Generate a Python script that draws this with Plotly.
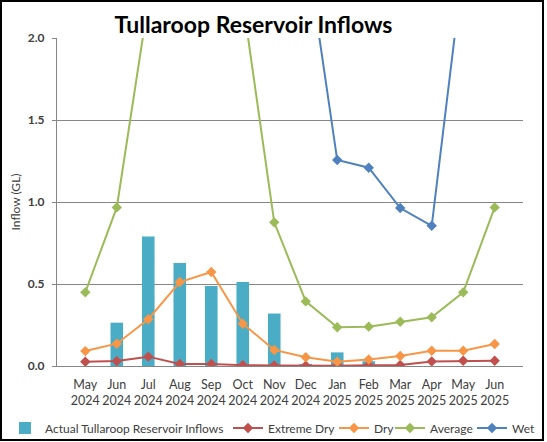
import plotly.graph_objects as go

categories = ["May<br>2024", "Jun<br>2024", "Jul<br>2024", "Aug<br>2024", "Sep<br>2024",
              "Oct<br>2024", "Nov<br>2024", "Dec<br>2024", "Jan<br>2025", "Feb<br>2025",
              "Mar<br>2025", "Apr<br>2025", "May<br>2025", "Jun<br>2025"]

actual = [None, 0.264, 0.79, 0.628, 0.488, 0.512, 0.32, 0.012, 0.083, 0.029, None, None, None, None]
extreme_dry = [0.026, 0.03, 0.057, 0.012, 0.012, 0.005, 0.003, 0.002, 0.002, 0.005, 0.006, 0.028, 0.032, 0.032]
dry = [0.091, 0.136, 0.285, 0.512, 0.573, 0.258, 0.098, 0.053, 0.026, 0.04, 0.061, 0.093, 0.093, 0.134]
average = [0.449, 0.967, 2.22, None, None, 2.23, 0.876, 0.394, 0.236, 0.24, 0.27, 0.297, 0.449, 0.967]
wet = [None, None, None, None, None, None, None, 2.57, 1.256, 1.209, 0.963, 0.855, 2.44, None]

FONT = "Lato"
TXT = "#404040"
W, H = 547, 442

fig = go.Figure()
fig.add_trace(go.Bar(x=categories, y=actual, name="Actual Tullaroop Reservoir Inflows",
                     marker=dict(color="#4BACC6", line=dict(width=0)), width=0.4, legend="legend"))

def line(y, name, color, leg):
    fig.add_trace(go.Scatter(x=categories, y=y, name=name, mode="lines+markers",
                             line=dict(color=color, width=2),
                             marker=dict(symbol="diamond", size=8, color=color),
                             connectgaps=False, legend=leg))

line(extreme_dry, "Extreme Dry", "#C0504D", "legend2")
line(dry, "Dry", "#F79646", "legend3")
line(average, "Average", "#9BBB59", "legend4")
line(wet, "Wet", "#4F81BD", "legend5")

L, R, T, B = 57, 24, 38, 76
pw, ph = W - L - R, H - T - B

def leg(text_x):
    return dict(orientation="h", x=(text_x - 40) / W, xref="container", xanchor="left",
                y=1 - 428 / H, yref="container", yanchor="middle",
                font=dict(family=FONT, size=12, color=TXT), itemwidth=30,
                bgcolor="rgba(0,0,0,0)")

fig.update_layout(
    width=W, height=H,
    margin=dict(l=L, r=R, t=T, b=B, autoexpand=False),
    paper_bgcolor="white", plot_bgcolor="white",
    font=dict(family=FONT, size=12, color=TXT),
    title=dict(text="<b>Tullaroop Reservoir Inflows</b>", x=253.5 / W, xref="container", xanchor="center",
               y=1 - 25 / H, yref="container", yanchor="middle",
               font=dict(family=FONT, size=23, color="black")),
    xaxis=dict(showgrid=False, showline=True, linecolor="#868686", linewidth=1,
               tickfont=dict(family=FONT, size=12.5, color=TXT), ticks="", ticklabelstandoff=7),
    yaxis=dict(range=[0, 2], dtick=0.5, tickformat=".1f", showgrid=True, gridcolor="#868686",
               gridwidth=1, showline=True, linecolor="#868686", linewidth=1,
               ticks="outside", ticklen=4, tickcolor="#868686", zeroline=False,
               ticklabelstandoff=5,
               tickfont=dict(family=FONT, size=12, color=TXT, weight="bold"),
               title=dict(text="Inflow (GL)", font=dict(family=FONT, size=12, color=TXT), standoff=4)),
    legend=leg(45), legend2=leg(268), legend3=leg(374), legend4=leg(430), legend5=leg(512),
    bargap=0.6, showlegend=True,
)

# outer chart border
fig.add_shape(type="rect", xref="paper", yref="paper",
              x0=(1 - L) / pw, x1=(543 - L) / pw,
              y0=(T + ph - 440) / ph, y1=(T + ph - 1) / ph,
              line=dict(color="black", width=2), layer="above")

fig.write_html("out.html", config={"displayModeBar": False},
               post_script="document.body.style.margin='0';document.body.style.padding='0';"
                           "document.body.style.overflow='hidden';")
